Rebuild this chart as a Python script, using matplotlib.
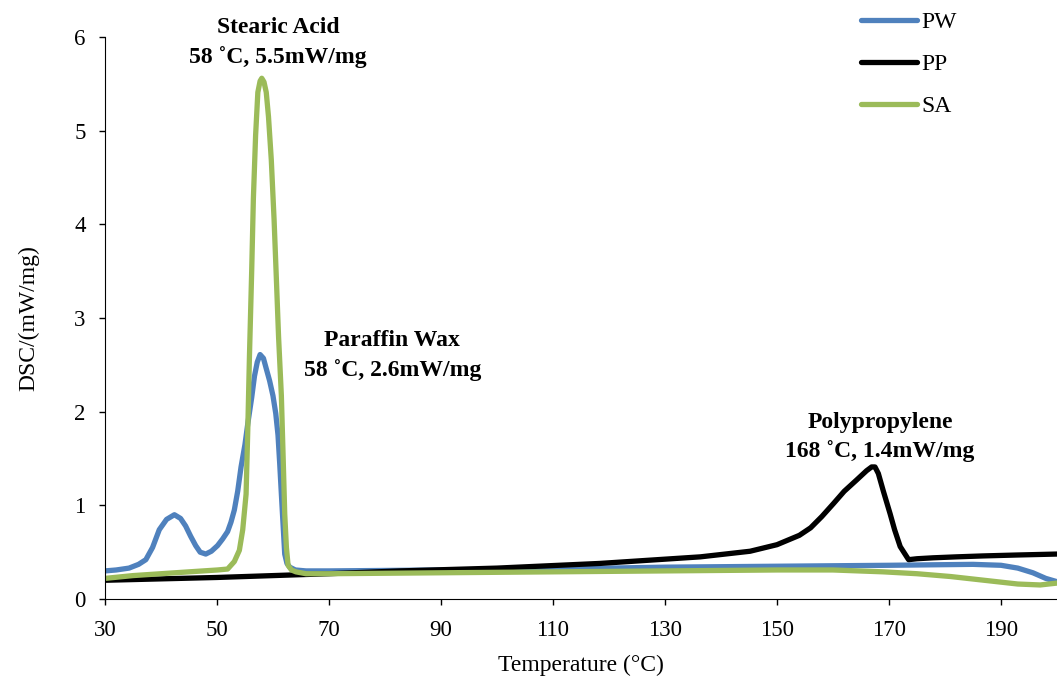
import matplotlib.pyplot as plt

# PW (paraffin wax)
pw_t = [30, 32, 34.3, 36, 37.3, 38.5, 39.7, 41, 42.4, 43.5, 44.4, 45.3, 46.2, 47,
        48, 49, 50.1, 51, 51.9, 52.5, 53.1, 53.7, 54.3, 55, 55.5, 56.2, 56.7, 57.2,
        57.7, 58.3, 58.8, 59.4, 60.0, 60.5, 60.9, 61.2, 61.5, 61.8, 62.1, 62.5, 63.0,
        64, 65.9, 70, 90, 110, 130, 150, 170, 185, 190, 193, 195.7, 198, 200]
pw_dsc = [0.30, 0.31, 0.33, 0.37, 0.42, 0.55, 0.74, 0.85, 0.90, 0.86, 0.78, 0.67,
          0.57, 0.50, 0.48, 0.51, 0.57, 0.64, 0.72, 0.82, 0.95, 1.15, 1.41, 1.65,
          1.87, 2.15, 2.38, 2.53, 2.61, 2.57, 2.46, 2.33, 2.17, 1.98, 1.75, 1.45,
          1.12, 0.80, 0.48, 0.38, 0.34, 0.31, 0.30, 0.30, 0.31, 0.32, 0.34, 0.35,
          0.36, 0.37, 0.36, 0.33, 0.28, 0.22, 0.185]

# PP (polypropylene)
pp_t = [30, 50, 70, 82.7, 100, 118.4, 136.3, 145.2, 150, 154, 156, 158, 160.1, 162,
        164.2, 166, 166.9, 167.5, 168.1, 169, 170.2, 171, 172, 173.5, 175, 177.9,
        182, 186.8, 193, 200]
pp_dsc = [0.20, 0.23, 0.27, 0.30, 0.33, 0.38, 0.45, 0.51, 0.58, 0.68, 0.76, 0.88,
          1.02, 1.15, 1.27, 1.37, 1.41, 1.41, 1.34, 1.15, 0.91, 0.74, 0.56, 0.42,
          0.43, 0.44, 0.45, 0.46, 0.47, 0.48]

# SA (stearic acid)
sa_t = [30, 35, 40, 45, 50.1, 51.9, 53.1, 54.0, 54.6, 55.2, 55.5, 55.8, 56.2, 56.5,
        56.9, 57.3, 57.7, 58.0, 58.4, 58.8, 59.2, 59.7, 60.2, 60.6, 61.0, 61.5, 61.8,
        62.1, 62.4, 62.7, 63.3, 64.1, 65.9, 70, 90, 110, 130, 150, 160, 169, 175,
        181, 187, 193, 197, 200]
sa_dsc = [0.22, 0.25, 0.27, 0.29, 0.31, 0.32, 0.40, 0.52, 0.74, 1.12, 1.80, 2.59,
          3.50, 4.27, 4.95, 5.41, 5.53, 5.56, 5.52, 5.41, 5.15, 4.69, 4.05, 3.43,
          2.80, 2.17, 1.55, 0.91, 0.55, 0.36, 0.31, 0.29, 0.27, 0.27, 0.28, 0.29,
          0.30, 0.31, 0.31, 0.29, 0.27, 0.24, 0.20, 0.16, 0.15, 0.17]

x_ticks = [30, 50, 70, 90, 110, 130, 150, 170, 190]
y_ticks = [0, 1, 2, 3, 4, 5, 6]

plt.rcParams["font.family"] = ["Liberation Serif", "DejaVu Serif"]

fig = plt.figure(figsize=(10.57, 6.77), dpi=100)
ax = fig.add_axes([0.0993, 0.1152, 0.9007, 0.8301])

lw = 3.8
ax.plot(pw_t, pw_dsc, color="#4F81BD", linewidth=lw, label="PW",
        solid_joinstyle="round", solid_capstyle="round")
ax.plot(pp_t, pp_dsc, color="black", linewidth=lw, label="PP",
        solid_joinstyle="round", solid_capstyle="round")
ax.plot(sa_t, sa_dsc, color="#9BBB59", linewidth=lw, label="SA",
        solid_joinstyle="round", solid_capstyle="round")

ax.set_xlim(30, 200)
ax.set_ylim(0, 6)
ax.set_xticks(x_ticks)
ax.set_yticks(y_ticks)
ax.spines["top"].set_visible(False)
ax.spines["right"].set_visible(False)
ax.tick_params(labelsize=16.5, length=4.5, width=1, direction="out")
ax.tick_params(axis="x", pad=10.5)
ax.tick_params(axis="y", pad=9.5)
ax.set_xlabel("Temperature (°C)", fontsize=17, labelpad=10)
ax.set_ylabel("DSC/(mW/mg)", fontsize=17, labelpad=25)

ann = dict(fontsize=17, fontweight="bold", ha="center", va="center",
           linespacing=1.45)
ax.text(60.9, 5.94, "Stearic Acid\n58 ˚C, 5.5mW/mg", **ann)
ax.text(81.3, 2.60, "Paraffin Wax\n58 ˚C, 2.6mW/mg", **ann)
ax.text(168.4, 1.73, "Polypropylene\n168 ˚C, 1.4mW/mg", **ann)

ax.legend(loc="upper left", bbox_to_anchor=(0.772, 1.083), frameon=False,
          fontsize=17, handlelength=2.35, labelspacing=0.87, handletextpad=0.2)

fig.savefig("out.png", dpi=100)
